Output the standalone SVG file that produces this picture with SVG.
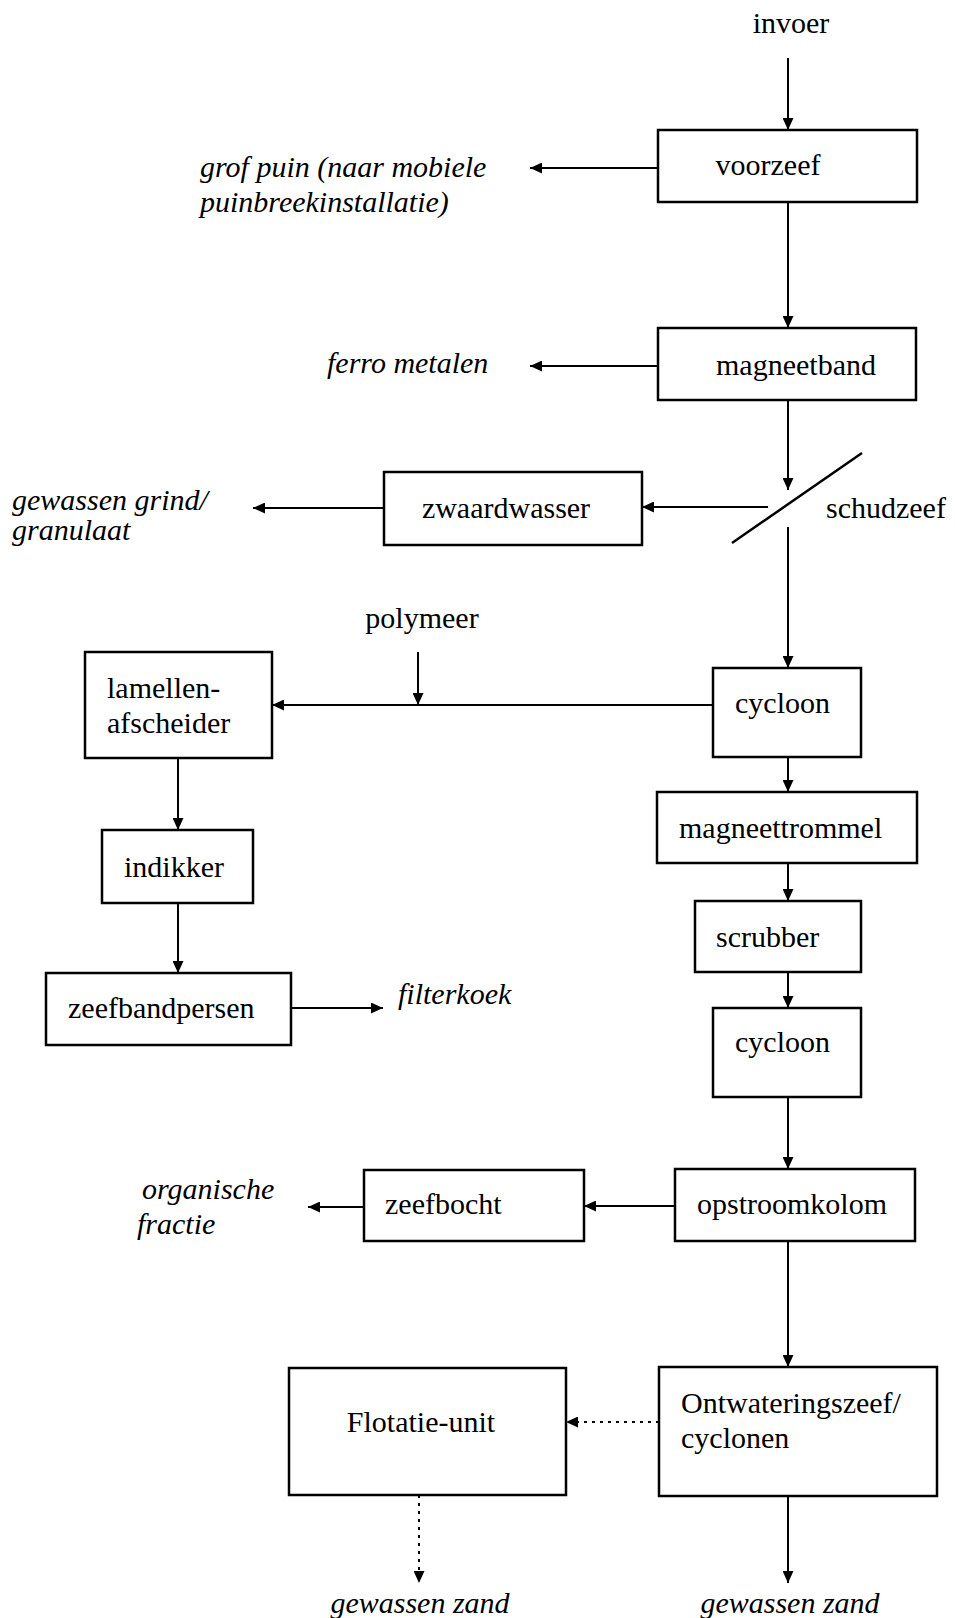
<svg xmlns="http://www.w3.org/2000/svg" width="955" height="1618" viewBox="0 0 955 1618">
<style>
  .box { fill: #fff; stroke: #000; stroke-width: 2.5; }
  .t { font-family: "Liberation Serif", "Times New Roman", serif; font-size: 30px; fill: #000; }
  .i { font-family: "Liberation Serif", "Times New Roman", serif; font-size: 30px; font-style: italic; fill: #000; }
  .c { stroke: #000; stroke-width: 2; fill: none; marker-end: url(#ah); }
  .d { stroke: #000; stroke-width: 2; fill: none; stroke-dasharray: 3 5; marker-end: url(#ah); }
</style>
<defs>
  <marker id="ah" markerUnits="userSpaceOnUse" markerWidth="13" markerHeight="11" refX="12" refY="5.5" orient="auto">
    <path d="M0,0 L12,5.5 L0,11 z" fill="#000"/>
  </marker>
</defs>
<rect width="955" height="1618" fill="#fff"/>

<g id="connectors">
  <line class="c" x1="788" y1="58" x2="788" y2="130"/>
  <line class="c" x1="658" y1="168" x2="530" y2="168"/>
  <line class="c" x1="788" y1="202" x2="788" y2="328"/>
  <line class="c" x1="658" y1="366" x2="530" y2="366"/>
  <line class="c" x1="788" y1="400" x2="788" y2="490"/>
  <line class="c" x1="768" y1="507" x2="642" y2="507"/>
  <line class="c" x1="384" y1="508" x2="253" y2="508"/>
  <line class="c" x1="788" y1="527" x2="788" y2="668"/>
  <line class="c" x1="713" y1="705" x2="272" y2="705"/>
  <line class="c" x1="418" y1="652" x2="418" y2="705"/>
  <line class="c" x1="178" y1="758" x2="178" y2="830"/>
  <line class="c" x1="178" y1="903" x2="178" y2="973"/>
  <line class="c" x1="291" y1="1008" x2="383" y2="1008"/>
  <line class="c" x1="788" y1="757" x2="788" y2="792"/>
  <line class="c" x1="788" y1="863" x2="788" y2="901"/>
  <line class="c" x1="788" y1="972" x2="788" y2="1008"/>
  <line class="c" x1="788" y1="1097" x2="788" y2="1169"/>
  <line class="c" x1="675" y1="1206" x2="584" y2="1206"/>
  <line class="c" x1="364" y1="1207" x2="308" y2="1207"/>
  <line class="c" x1="788" y1="1241" x2="788" y2="1367"/>
  <line class="d" x1="659" y1="1422" x2="566" y2="1422"/>
  <line class="d" x1="419" y1="1495" x2="419" y2="1583"/>
  <line class="c" x1="788" y1="1495" x2="788" y2="1583"/>
</g>

<g id="invoer"><text class="t" x="791" y="33" text-anchor="middle">invoer</text></g>

<g id="voorzeef">
  <rect class="box" x="658" y="130" width="259" height="72"/>
  <text class="t" x="768" y="175" text-anchor="middle">voorzeef</text>
</g>
<g id="grofpuin">
  <text class="i" x="200" y="177">grof puin (naar mobiele</text>
  <text class="i" x="200" y="212">puinbreekinstallatie)</text>
</g>

<g id="magneetband">
  <rect class="box" x="658" y="328" width="258" height="72"/>
  <text class="t" x="796" y="375" text-anchor="middle">magneetband</text>
</g>
<g id="ferro"><text class="i" x="327" y="373">ferro metalen</text></g>

<g id="schudzeef">
  <line x1="732" y1="543" x2="862" y2="453" stroke="#000" stroke-width="2.5"/>
  <text class="t" x="826" y="518">schudzeef</text>
</g>

<g id="zwaardwasser">
  <rect class="box" x="384" y="472" width="258" height="73"/>
  <text class="t" x="506" y="518" text-anchor="middle">zwaardwasser</text>
</g>
<g id="grind">
  <text class="i" x="12" y="510">gewassen grind/</text>
  <text class="i" x="12" y="540">granulaat</text>
</g>

<g id="polymeer"><text class="t" x="422" y="628" text-anchor="middle">polymeer</text></g>

<g id="lamellen">
  <rect class="box" x="85" y="652" width="187" height="106"/>
  <text class="t" x="107" y="698">lamellen-</text>
  <text class="t" x="107" y="733">afscheider</text>
</g>

<g id="cycloon1">
  <rect class="box" x="713" y="668" width="148" height="89"/>
  <text class="t" x="735" y="713">cycloon</text>
</g>

<g id="magneettrommel">
  <rect class="box" x="657" y="792" width="260" height="71"/>
  <text class="t" x="679" y="838">magneettrommel</text>
</g>

<g id="indikker">
  <rect class="box" x="102" y="830" width="151" height="73"/>
  <text class="t" x="124" y="877">indikker</text>
</g>

<g id="scrubber">
  <rect class="box" x="695" y="901" width="166" height="71"/>
  <text class="t" x="716" y="947">scrubber</text>
</g>

<g id="zeefbandpersen">
  <rect class="box" x="46" y="973" width="245" height="72"/>
  <text class="t" x="68" y="1018">zeefbandpersen</text>
</g>
<g id="filterkoek"><text class="i" x="398" y="1004">filterkoek</text></g>

<g id="cycloon2">
  <rect class="box" x="713" y="1008" width="148" height="89"/>
  <text class="t" x="735" y="1052">cycloon</text>
</g>

<g id="opstroomkolom">
  <rect class="box" x="675" y="1169" width="240" height="72"/>
  <text class="t" x="697" y="1214">opstroomkolom</text>
</g>

<g id="zeefbocht">
  <rect class="box" x="364" y="1170" width="220" height="71"/>
  <text class="t" x="385" y="1214">zeefbocht</text>
</g>
<g id="organische">
  <text class="i" x="142" y="1199">organische</text>
  <text class="i" x="137" y="1234">fractie</text>
</g>

<g id="ontwatering">
  <rect class="box" x="659" y="1367" width="278" height="129"/>
  <text class="t" x="681" y="1413">Ontwateringszeef/</text>
  <text class="t" x="681" y="1448">cyclonen</text>
</g>

<g id="flotatie">
  <rect class="box" x="289" y="1368" width="277" height="127"/>
  <text class="t" x="421" y="1432" text-anchor="middle">Flotatie-unit</text>
</g>

<g id="zand1"><text class="i" x="420" y="1613" text-anchor="middle">gewassen zand</text></g>
<g id="zand2"><text class="i" x="790" y="1613" text-anchor="middle">gewassen zand</text></g>
</svg>
